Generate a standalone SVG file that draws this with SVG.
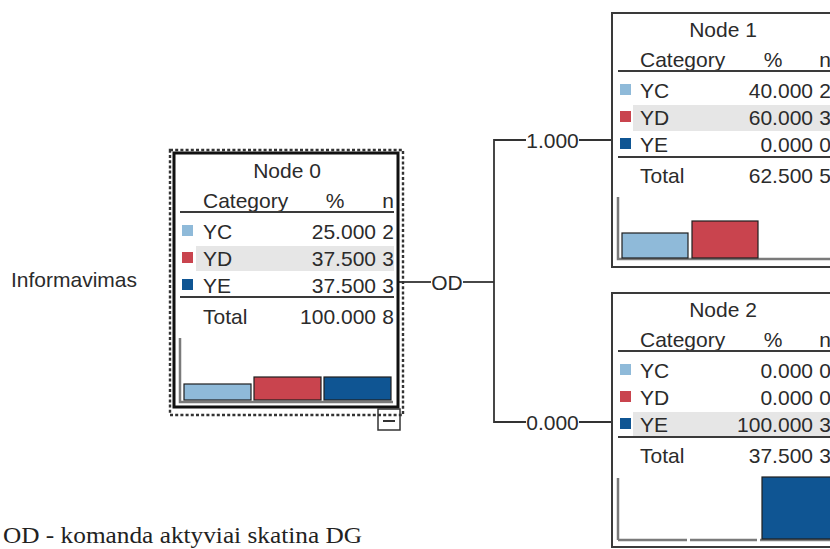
<svg xmlns="http://www.w3.org/2000/svg" width="830" height="549" viewBox="0 0 830 549">
<style>
text{font-family:"Liberation Sans",Arial,sans-serif;font-size:21px;fill:#2b2b2b}
.mid{text-anchor:middle}
.end{text-anchor:end}
.box{fill:#fff;stroke:#3a3a3a;stroke-width:2}
.box0{fill:#fff;stroke:#111;stroke-width:3}
.rule{stroke:#3a3a3a;stroke-width:2}
.hl{fill:#e6e6e6}
.axis{stroke:#7a7a7a;stroke-width:2.5;fill:none}
.yc{fill:#8fbad9}
.yd{fill:#c9444e}
.ye{fill:#0f5593}
.bar{stroke:#1e1e1e;stroke-width:1.2}
.conn{stroke:#333;stroke-width:1.8;fill:none}
.dot{fill:none;stroke:#333;stroke-width:2.4;stroke-dasharray:3 2.2}
.note{font-family:"Liberation Serif","Times New Roman",serif;font-size:23px;fill:#222}
</style>

<g id="connectors">
<line class="conn" x1="399" y1="282" x2="431" y2="282"/>
<line class="conn" x1="463" y1="282" x2="494" y2="282"/>
<polyline class="conn" points="526,140 494,140 494,422 526,422"/>
<line class="conn" x1="579" y1="140" x2="612" y2="140"/>
<line class="conn" x1="579" y1="422" x2="612" y2="422"/>
<text class="mid" x="447" y="290">OD</text>
<text class="mid" x="552.5" y="148">1.000</text>
<text class="mid" x="552.5" y="430">0.000</text>
</g>

<g id="label-informavimas">
<text x="11" y="287">Informavimas</text>
</g>

<g id="node0" transform="translate(174,153)">
<rect class="dot" x="-4" y="-3" width="233" height="265"/>
<rect class="box0" x="0" y="0" width="224" height="254"/>
<text class="mid" x="113" y="25">Node 0</text>
<text x="29" y="55">Category</text>
<text class="mid" x="161" y="55">%</text>
<text class="end" x="220" y="55">n</text>
<line class="rule" x1="6" y1="59" x2="220" y2="59"/>
<rect class="hl" x="22" y="93" width="198" height="25"/>
<rect class="yc" x="8" y="72" width="11" height="11"/>
<rect class="yd" x="8" y="99" width="11" height="11"/>
<rect class="ye" x="8" y="126" width="11" height="11"/>
<text x="29" y="86">YC</text><text class="end" x="202" y="86">25.000</text><text class="end" x="220" y="86">2</text>
<text x="29" y="113">YD</text><text class="end" x="202" y="113">37.500</text><text class="end" x="220" y="113">3</text>
<text x="29" y="140">YE</text><text class="end" x="202" y="140">37.500</text><text class="end" x="220" y="140">3</text>
<line class="rule" x1="6" y1="144" x2="220" y2="144"/>
<text x="29" y="171">Total</text><text class="end" x="202" y="171">100.000</text><text class="end" x="220" y="171">8</text>
<polyline class="axis" points="6,185 6,249 219,249"/>
<rect class="yc bar" x="10" y="231" width="67" height="16"/>
<rect class="yd bar" x="80" y="224" width="67" height="23"/>
<rect class="ye bar" x="150" y="224" width="67" height="23"/>
<rect x="204" y="256" width="22" height="21" fill="none" stroke="#333" stroke-width="1.5"/>
<line x1="209" y1="268" x2="221" y2="268" stroke="#333" stroke-width="2"/>
</g>

<g id="node1" transform="translate(612,13)">
<rect class="box" x="0" y="0" width="224" height="254"/>
<text class="mid" x="111" y="24">Node 1</text>
<text x="28" y="54">Category</text>
<text class="mid" x="161" y="54">%</text>
<text class="end" x="219" y="54">n</text>
<line class="rule" x1="6" y1="58" x2="220" y2="58"/>
<rect class="hl" x="21" y="92" width="199" height="26"/>
<rect class="yc" x="8" y="71" width="11" height="11"/>
<rect class="yd" x="8" y="98" width="11" height="11"/>
<rect class="ye" x="8" y="125" width="11" height="11"/>
<text x="28" y="85">YC</text><text class="end" x="201" y="85">40.000</text><text class="end" x="219" y="85">2</text>
<text x="28" y="112">YD</text><text class="end" x="201" y="112">60.000</text><text class="end" x="219" y="112">3</text>
<text x="28" y="139">YE</text><text class="end" x="201" y="139">0.000</text><text class="end" x="219" y="139">0</text>
<line class="rule" x1="6" y1="144" x2="220" y2="144"/>
<text x="28" y="170">Total</text><text class="end" x="201" y="170">62.500</text><text class="end" x="219" y="170">5</text>
<polyline class="axis" points="6,184 6,246 219,246"/>
<rect class="yc bar" x="10" y="220" width="66" height="25"/>
<rect class="yd bar" x="80" y="208" width="66" height="37"/>
</g>

<g id="node2" transform="translate(612,293)">
<rect class="box" x="0" y="0" width="224" height="254"/>
<text class="mid" x="111" y="24">Node 2</text>
<text x="28" y="54">Category</text>
<text class="mid" x="161" y="54">%</text>
<text class="end" x="219" y="54">n</text>
<line class="rule" x1="6" y1="58" x2="220" y2="58"/>
<rect class="hl" x="21" y="119" width="199" height="25"/>
<rect class="yc" x="8" y="71" width="11" height="11"/>
<rect class="yd" x="8" y="98" width="11" height="11"/>
<rect class="ye" x="8" y="125" width="11" height="11"/>
<text x="28" y="85">YC</text><text class="end" x="201" y="85">0.000</text><text class="end" x="219" y="85">0</text>
<text x="28" y="112">YD</text><text class="end" x="201" y="112">0.000</text><text class="end" x="219" y="112">0</text>
<text x="28" y="139">YE</text><text class="end" x="201" y="139">100.000</text><text class="end" x="219" y="139">3</text>
<line class="rule" x1="6" y1="144" x2="220" y2="144"/>
<text x="28" y="170">Total</text><text class="end" x="201" y="170">37.500</text><text class="end" x="219" y="170">3</text>
<line class="axis" x1="6" y1="185" x2="6" y2="247"/>
<line class="axis" x1="6" y1="247" x2="75" y2="247"/>
<line class="axis" x1="78" y1="247" x2="145" y2="247"/>
<line class="axis" x1="148" y1="247" x2="219" y2="247"/>
<rect class="ye bar" x="150" y="184" width="70" height="62"/>
</g>

<g id="footnote">
<text class="note" x="3" y="543" textLength="359" lengthAdjust="spacingAndGlyphs">OD - komanda aktyviai skatina DG</text>
</g>
</svg>
